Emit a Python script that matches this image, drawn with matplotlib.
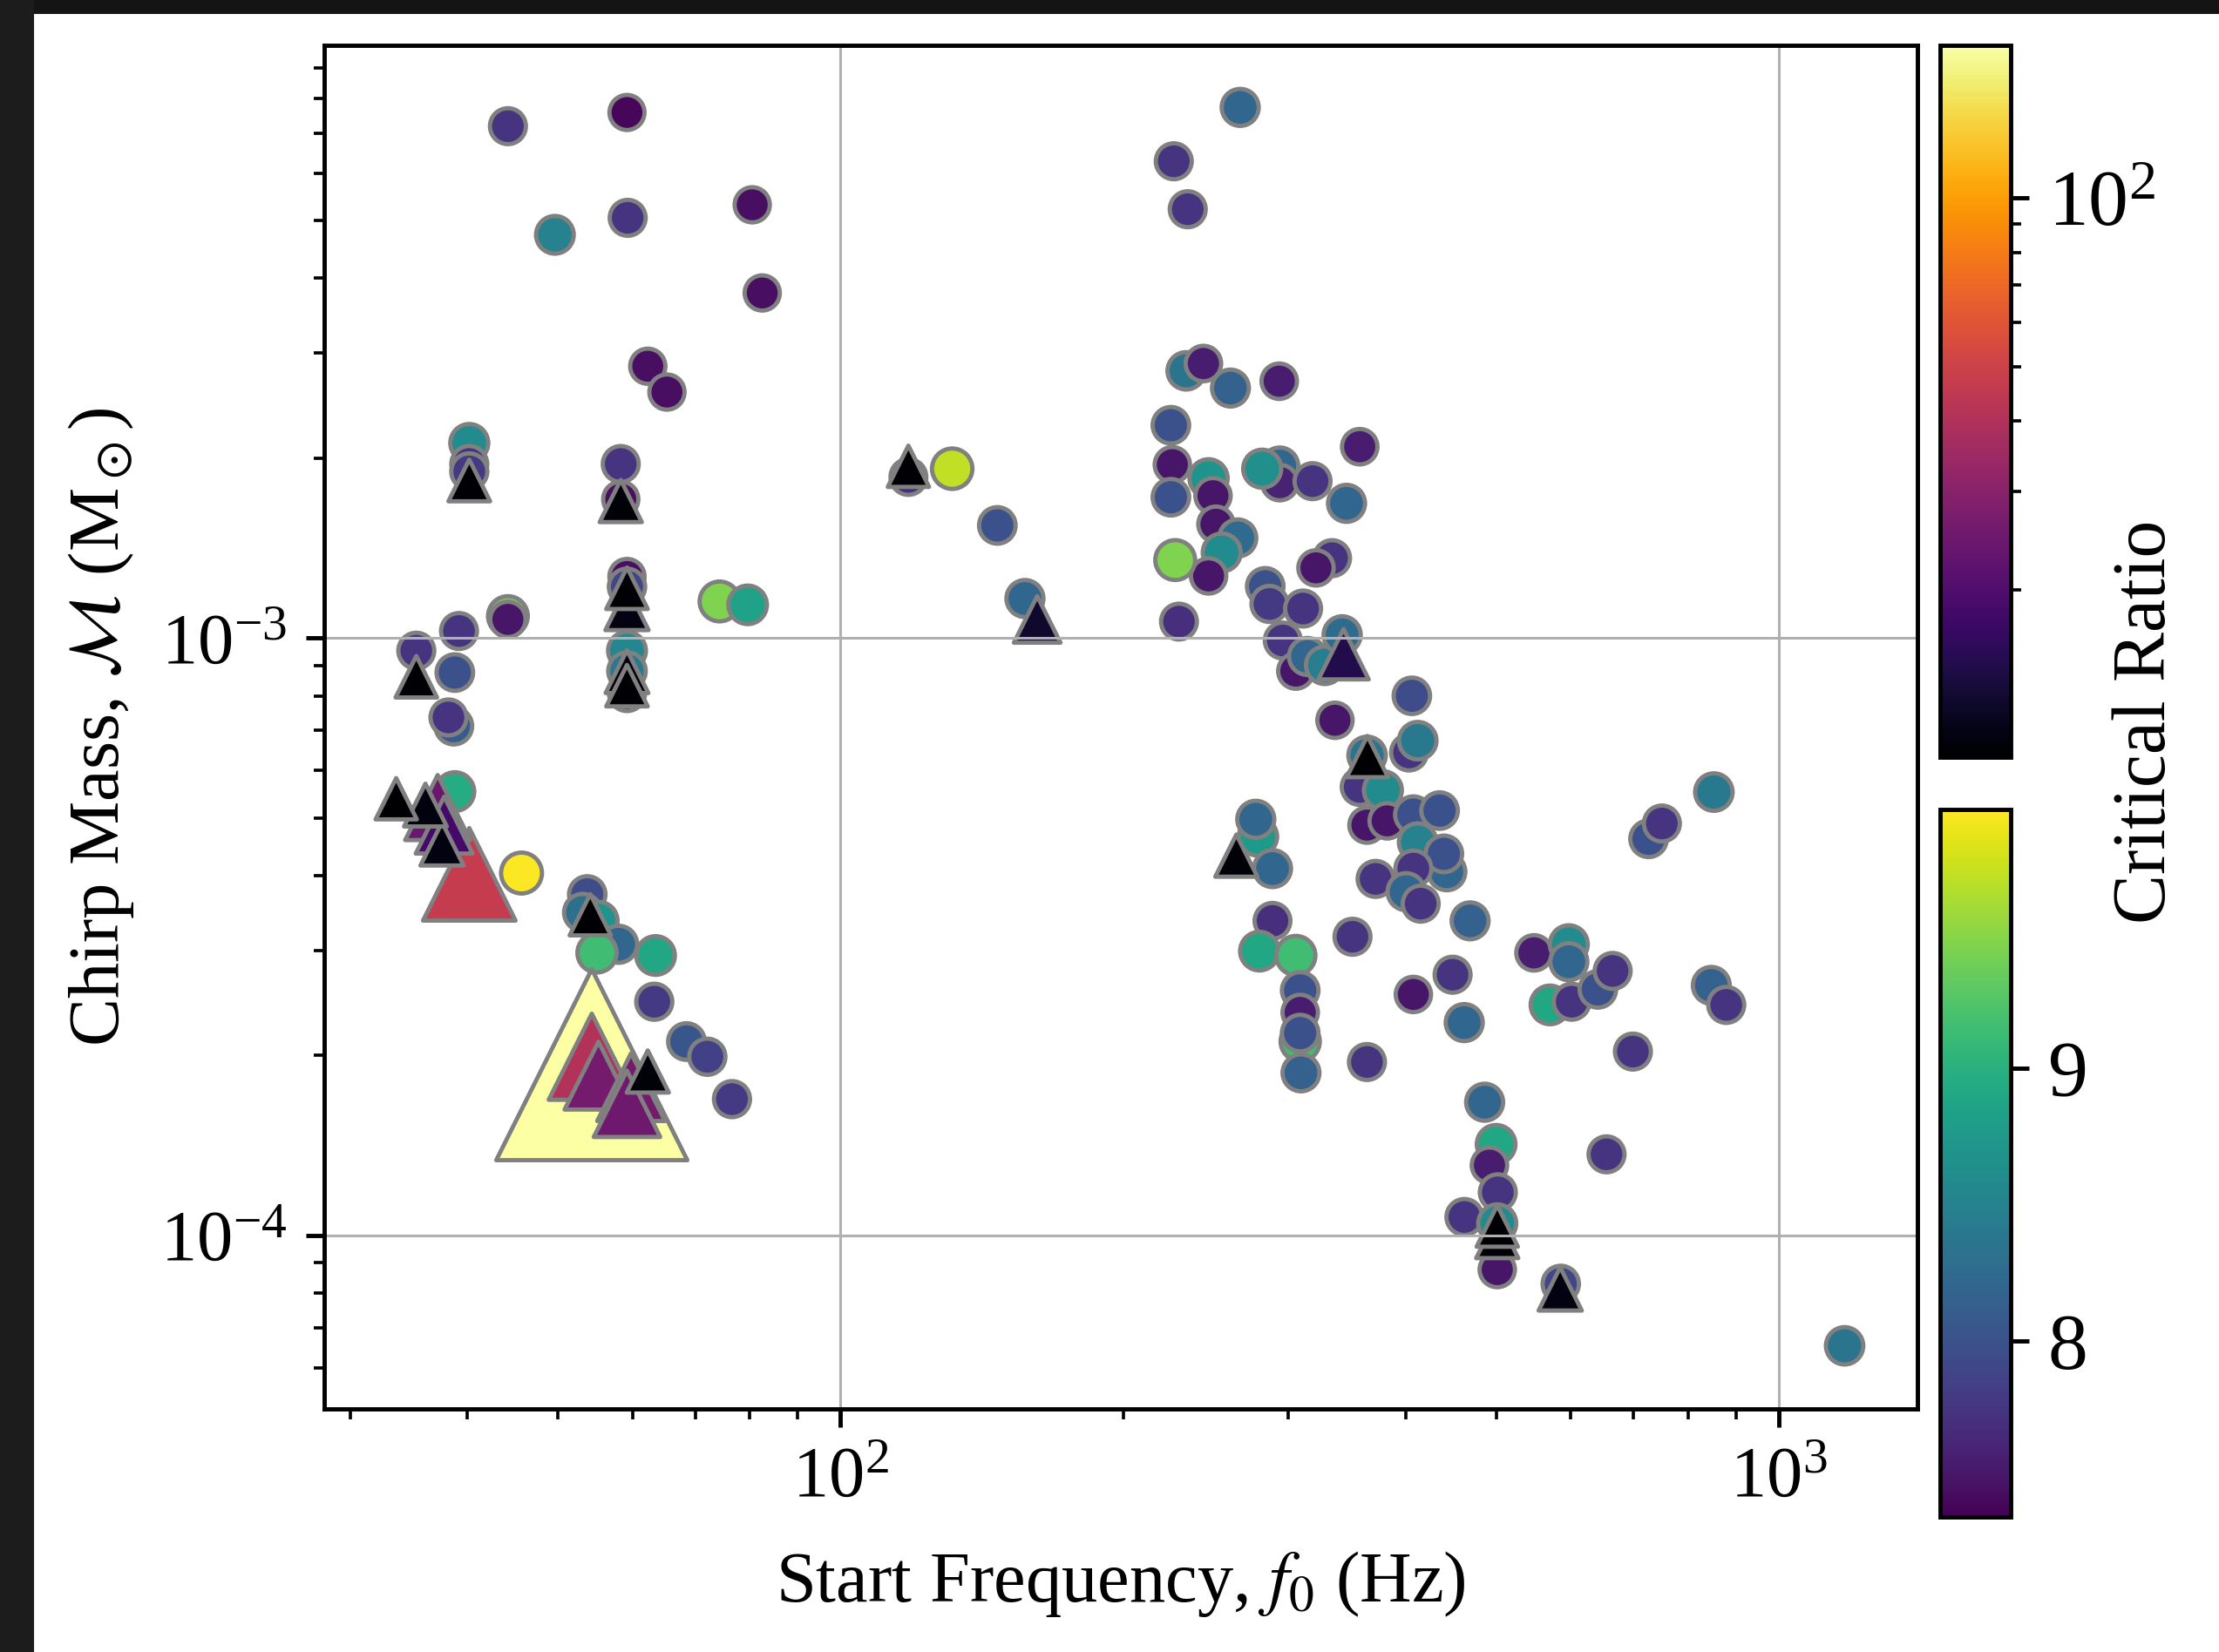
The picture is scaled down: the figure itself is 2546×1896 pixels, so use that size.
import matplotlib

matplotlib.use("Agg")
import matplotlib.pyplot as plt
import numpy as np
from matplotlib.cm import ScalarMappable
from matplotlib.colors import LogNorm, Normalize
from matplotlib.patches import Rectangle
from matplotlib.ticker import LogLocator, NullFormatter

plt.rcParams["font.family"] = ["Liberation Serif", "DejaVu Serif"]
plt.rcParams["mathtext.fontset"] = "stix"

# Sub-critical systems (critical ratio < 10): circles, viridis.
circle_f0 = [
    44.2, 59.2, 49.6, 59.3, 80.5, 82.5, 62.3, 65.3, 40.2, 40.2, 40.2, 58.3, 58.3,
    44.2, 44.2, 39.2, 35.3, 38.8, 38.7, 38.2, 59.2, 59.2, 59.2, 59.2, 59.2, 74.3, 79.6,
    38.8, 45.7, 53.7, 53.1, 55.2, 58.0, 55.0, 63.5, 63.3, 68.5, 72.1, 76.6,
    118.1, 131.5, 146.9, 157.2,
    266.6, 226.5, 234.4, 233.5, 243.6, 260.3, 293.4, 224.9, 357.5, 225.7, 246.7, 224.9,
    249.4, 251.2, 265.0, 254.8, 246.7, 227.3, 229.4, 293.8, 293.8, 281.4, 318.4, 346.1,
    334.0, 321.1, 283.5, 286.5, 311.1, 296.0, 305.6, 314.5, 328.1, 342.4, 406.3, 336.4,
    403.5, 412.2, 364.0, 357.5, 378.4, 363.9, 382.4, 407.8, 434.9, 412.2, 442.7, 439.5,
    407.8, 371.7, 400.6, 415.2, 468.7, 278.5, 277.0, 288.6, 288.6, 279.5, 305.6, 308.9,
    308.9, 308.9, 308.9, 309.5, 351.2, 407.8, 449.0, 462.0, 363.9, 485.7, 548.3, 597.2,
    597.2, 570.2, 601.4, 641.3, 665.0, 698.9, 655.1, 726.3, 750.4, 852.5, 847.2, 878.8,
    499.6, 491.5, 501.7, 462.2, 501.0, 501.0, 585.5, 1175.0,
]
circle_mass = [
    7.19e-3, 7.58e-3, 4.73e-3, 5.05e-3, 5.31e-3, 3.78e-3, 2.85e-3, 2.58e-3, 2.12e-3,
    1.955e-3, 1.90e-3, 1.955e-3, 1.707e-3,
    1.088e-3, 1.074e-3, 1.027e-3, 9.52e-4, 8.75e-4, 7.12e-4, 7.36e-4, 1.267e-3, 1.218e-3,
    9.52e-4, 8.80e-4, 8.09e-4, 1.151e-3, 1.136e-3,
    5.53e-4, 4.04e-4, 3.72e-4, 3.47e-4, 3.36e-4, 3.07e-4, 2.97e-4, 2.94e-4, 2.46e-4,
    2.11e-4, 1.99e-4, 1.69e-4,
    1.86e-3, 1.92e-3, 1.543e-3, 1.164e-3,
    7.73e-3, 6.28e-3, 5.22e-3, 2.80e-3, 2.88e-3, 2.62e-3, 2.69e-3, 2.27e-3, 2.09e-3,
    1.95e-3, 1.85e-3, 1.72e-3, 1.73e-3, 1.55e-3, 1.47e-3, 1.39e-3, 1.27e-3, 1.35e-3,
    1.065e-3, 1.94e-3, 1.82e-3, 1.92e-3, 1.83e-3, 1.68e-3, 1.36e-3, 1.31e-3, 1.22e-3,
    1.14e-3, 1.12e-3, 9.9e-4, 8.8e-4, 9.31e-4, 9.0e-4, 1.012e-3, 8.0e-4, 7.28e-4,
    6.43e-4, 6.73e-4, 6.36e-4, 5.63e-4, 5.56e-4, 4.86e-4, 4.94e-4, 5.06e-4, 5.14e-4,
    4.55e-4, 4.06e-4, 4.35e-4, 4.11e-4, 3.95e-4, 3.76e-4, 3.59e-4, 3.36e-4, 4.65e-4,
    4.97e-4, 4.11e-4, 3.36e-4, 2.99e-4, 2.94e-4, 2.11e-4, 2.57e-4, 2.36e-4, 2.18e-4,
    1.87e-4, 3.16e-4, 2.53e-4, 2.73e-4, 2.27e-4, 1.95e-4, 1.67e-4, 2.97e-4, 3.07e-4,
    2.87e-4, 2.43e-4, 2.46e-4, 2.58e-4, 2.77e-4, 2.03e-4, 1.366e-4, 4.61e-4, 4.89e-4,
    5.52e-4, 2.62e-4, 2.43e-4, 1.42e-4, 1.31e-4, 1.18e-4, 1.073e-4, 1.047e-4, 8.76e-5,
    8.29e-5, 6.53e-5,
]
circle_ratio = [
    7.75, 7.4, 8.5, 7.75, 7.45, 7.45, 7.45, 7.45, 8.6, 7.75, 7.8, 7.75, 7.45,
    9.4, 7.5, 7.75, 7.75, 8.0, 8.1, 7.75, 7.45, 7.9, 8.55, 8.4, 7.9, 9.45, 8.85,
    8.95, 9.93, 7.95, 8.3, 8.7, 8.2, 9.15, 8.9, 7.8, 8.05, 7.85, 7.8,
    7.7, 9.7, 8.0, 8.2,
    8.2, 7.75, 7.75, 8.35, 7.55, 8.15, 7.55, 8.0, 7.55, 7.5, 8.7, 8.0,
    7.5, 7.5, 8.25, 8.6, 7.5, 9.45, 7.7, 8.2, 7.6, 8.65, 7.75, 8.2,
    7.75, 7.5, 8.0, 7.8, 7.75, 7.75, 7.5, 8.2, 8.45, 8.25, 7.95, 7.5,
    7.75, 8.4, 8.35, 7.75, 8.6, 7.5, 7.5, 8.0, 8.0, 8.5, 8.2, 8.0,
    7.75, 7.75, 8.2, 7.75, 8.15, 8.75, 8.2, 8.2, 7.7, 8.9, 9.15, 9.15,
    8.0, 7.55, 8.0, 8.15, 7.75, 7.5, 7.75, 8.2, 7.75, 8.2, 7.55, 8.6,
    8.2, 8.9, 7.75, 8.0, 7.75, 7.75, 7.75, 8.0, 7.75, 8.4, 8.15, 7.75,
    8.9, 7.55, 7.75, 7.75, 8.6, 7.5, 7.9, 8.35,
]

# Super-critical systems (critical ratio >= 10): triangles, inferno (log).
tri_f0 = [
    40.2, 58.3, 59.2, 59.2, 59.2, 59.2, 35.3, 33.6, 36.1, 37.8, 37.2, 37.6, 40.2,
    54.1, 54.3, 54.3, 55.2, 59.8, 59.2, 62.3, 118.1, 162.0, 343.6, 364.3, 264.1,
    501.0, 501.0, 584.7,
]
tri_mass = [
    1.835e-3, 1.695e-3, 1.211e-3, 1.12e-3, 8.78e-4, 8.32e-4, 8.61e-4, 5.38e-4, 5.25e-4,
    4.86e-4, 5.20e-4, 4.52e-4, 4.02e-4, 3.44e-4, 1.93e-4, 1.99e-4, 1.85e-4, 1.77e-4,
    1.66e-4, 1.88e-4, 1.938e-3, 1.074e-3, 9.39e-4, 6.33e-4, 4.32e-4, 1.036e-4,
    9.93e-5, 8.13e-5,
]
tri_ratio = [
    10.3, 10.5, 10.2, 11.0, 10.8, 10.2, 10.2, 10.1, 10.8, 18.6, 24.0, 11.0, 47.0,
    10.1, 187.0, 41.0, 26.0, 26.0, 25.0, 10.5, 10.1, 12.7, 14.7, 10.1, 10.5,
    10.1, 10.5, 11.0,
]

W, H, DPI = 2546, 1896, 440
fig = plt.figure(figsize=(W / DPI, H / DPI), dpi=DPI)

# dark screenshot frame along the top and left edges
fig.patches.append(Rectangle((0, 1 - 13 / H), 1, 13 / H, transform=fig.transFigure,
                             color="#141414", zorder=-10))
fig.patches.append(Rectangle((0, 0), 36 / W, 1, transform=fig.transFigure,
                             color="#1c1c1c", zorder=-10))

ax = fig.add_axes([372 / W, 1 - 1617 / H, (2200 - 372) / W, (1617 - 52) / H])

circ_norm = Normalize(vmin=7.355, vmax=9.95)
tri_norm = LogNorm(vmin=10.08, vmax=187.0)


def marker_area(ratio):
    # marker area grows (slightly faster than linearly) with the critical ratio
    return 5.3 * np.asarray(ratio) ** 1.05


ax.scatter(circle_f0, circle_mass, c=circle_ratio, cmap="viridis", norm=circ_norm,
           s=marker_area(circle_ratio), marker="o", edgecolors="grey", linewidths=0.8)

order = np.argsort(tri_ratio)[::-1]  # big triangles underneath
tf = np.array(tri_f0)[order]
tm = np.array(tri_mass)[order]
tr = np.array(tri_ratio)[order]
ax.scatter(tf, tm, c=tr, cmap="inferno", norm=tri_norm, s=marker_area(tr),
           marker="^", edgecolors="grey", linewidths=0.8)

ax.set_xscale("log")
ax.set_yscale("log")
ax.set_xlim(28.16, 1405)
ax.set_ylim(5.12e-5, 9.82e-3)
ax.grid(True, which="major", color="#b0b0b0", linewidth=0.5)
ax.tick_params(axis="both", which="major", labelsize=13.5)
ax.set_xlabel("Start Frequency, $f_0$ (Hz)", fontsize=13.5, labelpad=7)
ax.set_ylabel(r"Chirp Mass, $\mathcal{M}$ (M$_\odot$)", fontsize=13.5, labelpad=4.5)

# colour bars: inferno (log) on top for triangles, viridis below for circles
cax_top = fig.add_axes([2226 / W, 1 - 869 / H, 81 / W, (869 - 52) / H])
cb_top = fig.colorbar(ScalarMappable(norm=tri_norm, cmap="inferno"), cax=cax_top)
cb_top.ax.yaxis.set_minor_locator(LogLocator(base=10, subs=np.arange(2, 10)))
cb_top.ax.yaxis.set_minor_formatter(NullFormatter())
cb_top.ax.tick_params(labelsize=15)

cax_bot = fig.add_axes([2226 / W, 1 - 1741 / H, 81 / W, (1741 - 929) / H])
cb_bot = fig.colorbar(ScalarMappable(norm=circ_norm, cmap="viridis"), cax=cax_bot)
cb_bot.set_ticks([8, 9])
cb_bot.ax.tick_params(labelsize=15)

fig.text(2463 / W, 1 - 828 / H, "Critical Ratio", rotation=90, fontsize=14,
         ha="center", va="center")

fig.savefig("out.png", dpi=DPI)
